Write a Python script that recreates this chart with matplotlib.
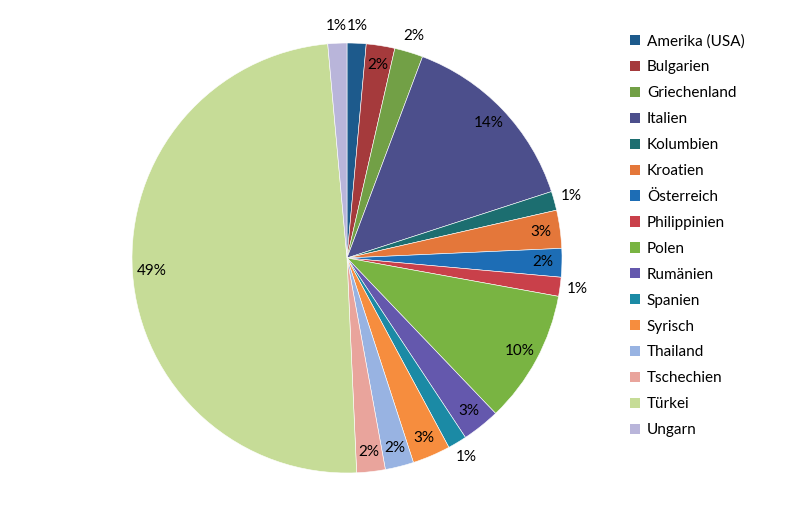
import matplotlib
matplotlib.use('Agg')
import matplotlib.pyplot as plt
import numpy as np
from matplotlib.patches import Patch

# Herkunftsländer (Anzahl)
countries = ['Amerika (USA)', 'Bulgarien', 'Griechenland', 'Italien', 'Kolumbien',
             'Kroatien', 'Österreich', 'Philippinien', 'Polen', 'Rumänien',
             'Spanien', 'Syrisch', 'Thailand', 'Tschechien', 'Türkei', 'Ungarn']
counts = [2, 3, 3, 20, 2, 4, 3, 2, 14, 4, 2, 4, 3, 3, 69, 2]
colors = ['#1d5a8c', '#a53a3c', '#72a046', '#4c4f8c', '#1c6e70', '#e4773a',
          '#1d6db5', '#c9404a', '#79b442', '#6458ad', '#1b8aa5', '#f68d3e',
          '#98b3e2', '#e9a49c', '#c6dc97', '#b9b5da']
outside = ['Amerika (USA)', 'Griechenland', 'Kolumbien', 'Philippinien', 'Spanien', 'Ungarn']

plt.rcParams['font.family'] = ['Lato', 'DejaVu Sans']

W, H = 800, 511
fig = plt.figure(figsize=(W/100, H/100), dpi=100)
cx, cy, r = 347, 258, 215
ax = fig.add_axes([(cx-r)/W, (H-cy-r)/H, 2*r/W, 2*r/H])

wedges, _ = ax.pie(counts, colors=colors, startangle=90, counterclock=False,
                   radius=1, wedgeprops=dict(edgecolor='white', linewidth=0.4))
ax.set_xlim(-1, 1)
ax.set_ylim(-1, 1)
ax.set_aspect('equal')
ax.axis('off')

total = sum(counts)
for w, name, c in zip(wedges, countries, counts):
    mid = np.deg2rad((w.theta1 + w.theta2) / 2)
    d = 1.08 if name in outside else 0.91
    ax.text(d*np.cos(mid), d*np.sin(mid), '%.0f%%' % (100.0*c/total),
            ha='center', va='center', fontsize=11, color='black')

handles = [Patch(facecolor=col, edgecolor='none') for col in colors]
fig.legend(handles, countries, loc='upper left', bbox_to_anchor=(624/W, 1-28/H),
           frameon=False, fontsize=11, handlelength=0.65, handleheight=0.65,
           handletextpad=0.45, labelspacing=0.78, borderaxespad=0)

fig.savefig('out.png', dpi=100, facecolor='white')
